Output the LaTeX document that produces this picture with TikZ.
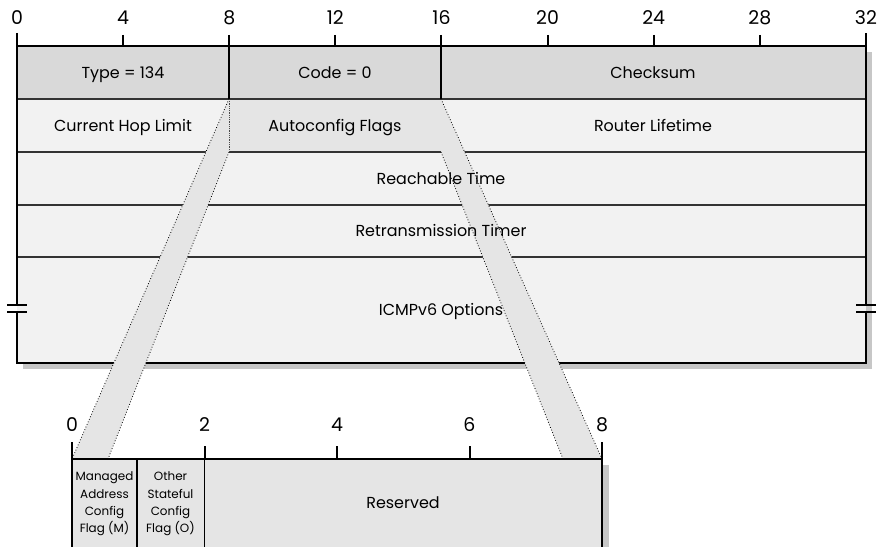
\documentclass[tikz,border=0pt]{standalone}
\usepackage{fontspec}
\setmainfont{Poppins}
\definecolor{hdr}{gray}{0.85}
\definecolor{rowc}{gray}{0.95}
\definecolor{acf}{gray}{0.9}
\definecolor{bandc}{gray}{0.9}
\definecolor{shad}{gray}{0.78}
\definecolor{linec}{gray}{0.2}
\begin{document}
\begin{tikzpicture}[x=1bp,y=-1bp,
  frame/.style={line width=2.2bp,black},
  inner/.style={line width=1.4bp,linec},
  tickl/.style={line width=2bp,black},
  edge/.style={line width=0.8bp,dotted,black},
  lbl/.style={font=\fontsize{16}{18}\selectfont,inner sep=0pt,text height=11.5bp,text depth=0bp},
  num/.style={font=\fontsize{19}{20}\selectfont,inner sep=0pt,text height=13.5bp,text depth=0bp},
  small/.style={font=\fontsize{12}{17.3}\selectfont,align=center,inner sep=0pt}]
\useasboundingbox (0,0) rectangle (881,547);
% ---- top box ----
\fill[shad] (23,52) rectangle (872,369);
\fill[hdr] (17,46) rectangle (866,99);
\fill[rowc] (17,99) rectangle (866,363);
\fill[acf] (229,99) rectangle (441,152);
\foreach \y in {99,152,205,257} \draw[inner] (17,\y) -- (866,\y);
\draw[line width=1.8bp] (229,46) -- (229,99) (441,46) -- (441,99);
\draw[line width=0.8bp,linec,densely dotted] (229,99) -- (229,152) (441,99) -- (441,152);
\draw[frame] (17,46) -- (866,46);
\draw[frame] (17,33) -- (17,305.5) (17,311.5) -- (17,363) -- (866,363) -- (866,311.5) (866,305.5) -- (866,33);
\draw[frame] (7,305) -- (27,305) (7,312) -- (27,312) (856,305) -- (876,305) (856,312) -- (876,312);
\foreach \i in {4,8,...,28} \draw[tickl] ({17+26.53*\i},35) -- ({17+26.53*\i},46);
\foreach \i in {0,4,...,32} \node[num] (t\i) at ({17+26.53*\i},18) {\i};
% named corners
\coordinate (aTL) at (229,99);
\coordinate (aBL) at (229,152);
\coordinate (aTR) at (441,99);
\coordinate (aBR) at (441,152);
\coordinate (bL) at (72,459);
\coordinate (bL2) at (108,459);
\coordinate (bR2) at (563,459);
\coordinate (bR) at (602,459);
% ---- bands ----
\fill[bandc] (aTL) -- (aBL) -- (bL2) -- (bL) -- cycle;
\fill[bandc] (aTR) -- (aBR) -- (bR2) -- (bR) -- cycle;
\draw[edge] (aTL) -- (bL) (aBL) -- (bL2) (aTR) -- (bR) (aBR) -- (bR2);
% ---- top texts ----
\node[lbl] (type) at (123,72.5) {Type = 134};
\node[lbl] (code) at (335,72.5) {Code = 0};
\node[lbl] (cks) at (653,72.5) {Checksum};
\node[lbl] (hop) at (123,126) {Current Hop Limit};
\node[lbl] (acfl) at (335,126) {Autoconfig Flags};
\node[lbl] (rlt) at (653,126) {Router Lifetime};
\node[lbl] (reach) at (441,179) {Reachable Time};
\node[lbl] (retr) at (441,231) {Retransmission Timer};
\node[lbl] (opts) at (441,310) {ICMPv6 Options};
% ---- bottom box ----
\fill[shad] (602,465) rectangle (609,547);
\fill[acf] (72,459) rectangle (602,550);
\draw[frame] (72,459) -- (602,459);
\draw[frame] (72,442) -- (72,550) (602,442) -- (602,550);
\draw[line width=1.6bp] (137,459) -- (137,550) (204.5,459) -- (204.5,550);
\foreach \i in {2,4,6} \draw[tickl] ({72+66.25*\i},446) -- ({72+66.25*\i},459);
\foreach \i in {0,2,...,8} \node[num] (b\i) at ({72+66.25*\i},425) {\i};
\node[small] (mflag) at (104.5,504) {Managed\\Address\\Config\\Flag (M)};
\node[small] (oflag) at (170.5,504) {Other\\Stateful\\Config\\Flag (O)};
\node[lbl] (res) at (403,503) {Reserved};
\end{tikzpicture}
\end{document}
